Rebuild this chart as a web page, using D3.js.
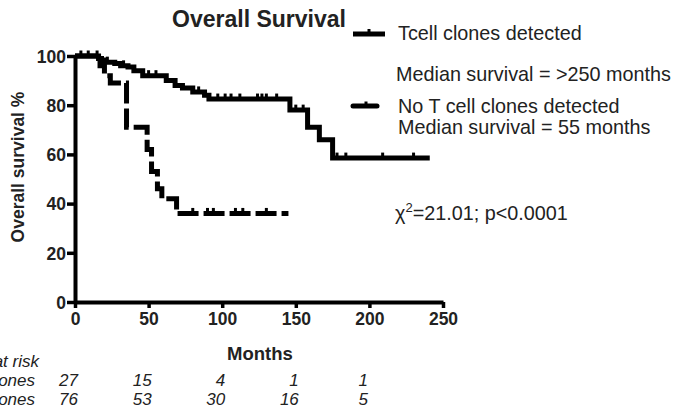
<!DOCTYPE html>
<html>
<head>
<meta charset="utf-8">
<script src="https://cdn.jsdelivr.net/npm/d3@7"></script>
<style>
  body { margin: 0; background: #fff; }
  svg { display: block; }
  text { font-family: "Liberation Sans", Arial, Helvetica, sans-serif; fill: #222; }
</style>
</head>
<body>
<div id="chart"></div>
<script>
// survival steps (months, %)
const solidTimes = [0, 16, 18, 20, 27, 31, 36, 40, 46, 62, 68, 73, 80, 88, 91, 146, 158, 166, 175, 241]
const solidSurv = [100, 99, 98.4, 97.5, 97, 96, 95.5, 94, 92, 90, 88, 87, 85.4, 84, 82.5, 78, 71, 66, 58.5, 58.5]
const solidCensor = [4, 9, 15, 22, 33, 50, 55, 84, 97, 102, 106, 112, 124, 127, 130, 137, 150, 155, 178, 184, 209, 230]

const dashTimes = [0, 17, 20, 24, 35, 49, 52, 56, 59, 69, 145]
const dashSurv = [100, 96, 92, 89, 71, 62, 53, 46, 42, 36, 36]
const dashCensor = [80, 90, 94, 109, 114, 130]

const xTicks = [0, 50, 100, 150, 200, 250]
const yTicks = [0, 20, 40, 60, 80, 100]

const riskLabels = ['Number at risk', 'T cell clones', 'No T cell clones']
const riskMonths = [0, 50, 100, 150, 197]
const riskRow1 = [27, 15, 4, 1, 1]
const riskRow2 = [76, 53, 30, 16, 5]

const legendLabels = ['Tcell clones detected', 'Median survival = >250 months',
  'No T cell clones detected', 'Median survival = 55 months']

const W = 677, H = 407
const margin = {left: 75, right: 234, top: 56, bottom: 105}

let svg = d3.select('#chart').append('svg').attr('width', W).attr('height', H)

let xScale = d3.scaleLinear().domain([0, 250]).range([margin.left, W - margin.right])
let yScale = d3.scaleLinear().domain([0, 100]).range([H - margin.bottom, margin.top])

// axes
let yAxis = d3.axisLeft(yScale).tickValues(yTicks).tickSize(8).tickSizeOuter(0).tickPadding(1)
let xAxis = d3.axisBottom(xScale).tickValues(xTicks).tickSize(6).tickSizeOuter(0).tickPadding(4)

let yG = svg.append('g').attr('transform', `translate(${margin.left},0)`).call(yAxis)
let xG = svg.append('g').attr('transform', `translate(0,${H - margin.bottom})`).call(xAxis)
;[xG, yG].forEach(g => {
  g.select('.domain').attr('stroke', '#000').attr('stroke-width', 4)
  g.selectAll('.tick line').attr('stroke', '#000').attr('stroke-width', 3.5)
  g.selectAll('.tick text').attr('font-size', 17.5).attr('font-weight', 'bold')
    .attr('font-family', '"Liberation Sans", Arial, sans-serif').attr('fill', '#222')
})
yG.selectAll('.tick text').attr('dy', '0.36em')
xG.selectAll('.tick text').attr('dy', '0.72em')

// curves
const stepLine = d3.line().curve(d3.curveStepAfter)
const valueAt = (times, surv, t) => surv[d3.bisectRight(times, t) - 1]

function drawCurve (times, surv, censor, dashed) {
  let pts = times.map((t, i) => [xScale(t), yScale(surv[i])])
  svg.append('path').attr('d', stepLine(pts))
    .attr('fill', 'none').attr('stroke', '#000').attr('stroke-width', 5)
    .attr('stroke-linejoin', 'miter')
    .attr('stroke-dasharray', dashed ? '21,5' : null)
  svg.append('g').selectAll('line').data(censor).enter().append('line')
    .attr('x1', d => xScale(d)).attr('x2', d => xScale(d))
    .attr('y1', d => yScale(valueAt(times, surv, d)))
    .attr('y2', d => yScale(valueAt(times, surv, d)) - 5.5)
    .attr('stroke', '#000').attr('stroke-width', 3)
}
drawCurve(solidTimes, solidSurv, solidCensor, false)
drawCurve(dashTimes, dashSurv, dashCensor, true)

// title and axis titles
svg.append('text').text('Overall Survival')
  .attr('x', 259).attr('y', 27).attr('text-anchor', 'middle')
  .attr('font-size', 23).attr('font-weight', 'bold')
svg.append('text').text('Overall survival %')
  .attr('transform', 'translate(24,167) rotate(-90)')
  .attr('text-anchor', 'middle').attr('font-size', 17.5).attr('font-weight', 'bold')
svg.append('text').text('Months')
  .attr('x', 260).attr('y', 360).attr('text-anchor', 'middle')
  .attr('font-size', 18.5).attr('font-weight', 'bold')

// legend
let leg = svg.append('g').attr('transform', 'translate(353,0)')
leg.append('line').attr('x1', 0).attr('x2', 32).attr('y1', 34).attr('y2', 34)
  .attr('stroke', '#000').attr('stroke-width', 5)
leg.append('line').attr('x1', 16).attr('x2', 16).attr('y1', 34).attr('y2', 29)
  .attr('stroke', '#000').attr('stroke-width', 3)
leg.append('line').attr('x1', 0).attr('x2', 24).attr('y1', 106).attr('y2', 106)
  .attr('stroke', '#000').attr('stroke-width', 5).attr('stroke-linecap', 'round')
leg.append('line').attr('x1', 13).attr('x2', 13).attr('y1', 106).attr('y2', 101.5)
  .attr('stroke', '#000').attr('stroke-width', 3)
const legY = [40, 81, 113, 134]
const legX = [45, 43, 45, 45]
leg.selectAll('text.lg').data(legendLabels).enter().append('text')
  .attr('x', (d, i) => legX[i]).attr('y', (d, i) => legY[i])
  .attr('font-size', 19.8).text(d => d)

let chi = svg.append('text').attr('x', 395).attr('y', 220).attr('font-size', 19.8)
chi.append('tspan').text('\u03c7')
chi.append('tspan').text('2').attr('font-size', 13).attr('dy', -8)
chi.append('tspan').text('=21.01; p<0.0001').attr('dy', 8)

// numbers at risk
let risk = svg.append('g').attr('font-style', 'italic').attr('font-size', 17)
risk.selectAll('text.lab').data(riskLabels).enter().append('text')
  .attr('x', 37).attr('y', (d, i) => 367 + i * 19).attr('text-anchor', 'end')
  .attr('dx', (d, i) => i === 0 ? 2 : -2)
  .text(d => d)
;[riskRow1, riskRow2].forEach((row, r) => {
  risk.selectAll(`text.r${r}`).data(row).enter().append('text')
    .attr('x', (d, i) => xScale(riskMonths[i]) + 3)
    .attr('y', 386 + r * 19).attr('text-anchor', 'end')
    .text(d => d)
})
</script>
</body>
</html>
